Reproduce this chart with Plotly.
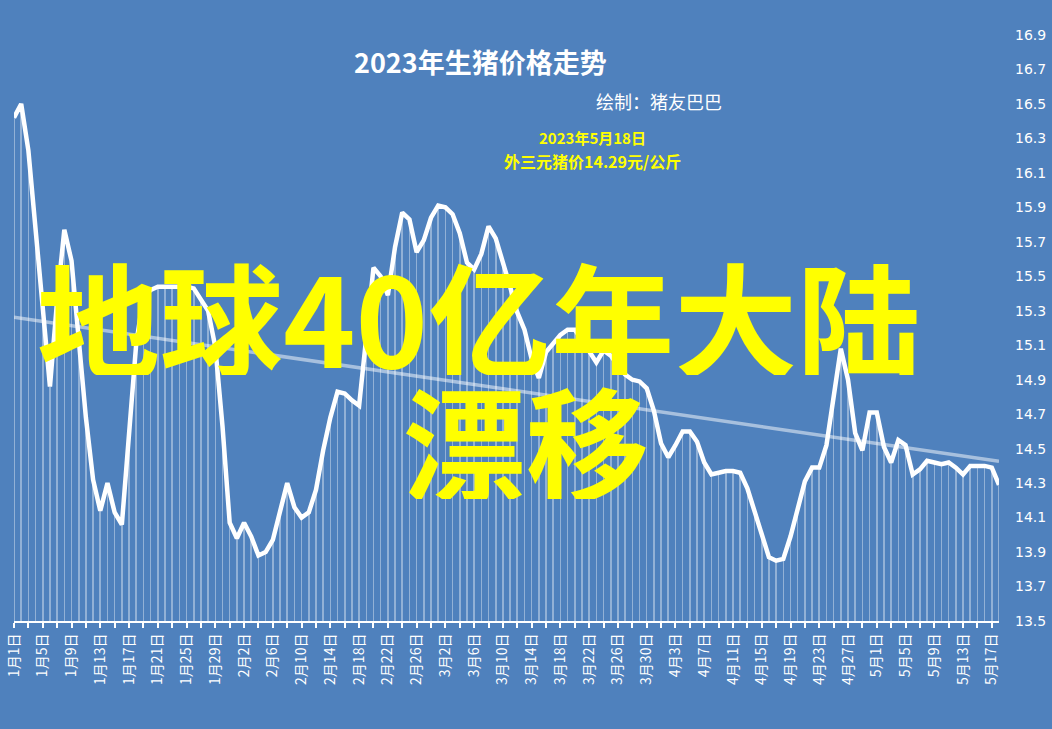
import numpy as np
import pandas as pd
import plotly.graph_objects as go

# ---- data ----
start_date = "2023-01-01"
end_date = "2023-05-18"
prices = [
    16.42, 16.50, 16.23, 15.79, 15.31, 14.86, 15.36, 15.77, 15.59, 15.11,
    14.68, 14.32, 14.14, 14.30, 14.13, 14.06, 14.61, 15.11, 15.38, 15.42,
    15.44, 15.44, 15.44, 15.44, 15.44, 15.43, 15.37, 15.30, 15.09, 14.63,
    14.07, 13.98, 14.07, 13.99, 13.88, 13.90, 13.97, 14.14, 14.30, 14.16,
    14.10, 14.13, 14.26, 14.49, 14.68, 14.83, 14.82, 14.78, 14.75, 15.15,
    15.55, 15.50, 15.39, 15.67, 15.87, 15.83, 15.64, 15.71, 15.84, 15.91,
    15.90, 15.86, 15.75, 15.58, 15.54, 15.63, 15.79, 15.72, 15.59, 15.44,
    15.29, 15.19, 15.02, 14.91, 15.06, 15.11, 15.16, 15.19, 15.19, 15.13,
    15.06, 15.00, 15.07, 15.04, 14.98, 14.93, 14.90, 14.89, 14.85, 14.72,
    14.53, 14.45, 14.52, 14.60, 14.60, 14.54, 14.42, 14.35, 14.36, 14.37,
    14.37, 14.36, 14.27, 14.14, 14.01, 13.87, 13.85, 13.86, 13.99, 14.16,
    14.31, 14.39, 14.39, 14.52, 14.80, 15.08, 14.90, 14.59, 14.49, 14.71,
    14.71, 14.51, 14.42, 14.55, 14.52, 14.35, 14.38, 14.43, 14.42, 14.41,
    14.42, 14.39, 14.35, 14.40, 14.40, 14.40, 14.39, 14.29,
]
tick_labels = [
    "1月1日", "1月5日", "1月9日", "1月13日", "1月17日", "1月21日", "1月25日", "1月29日",
    "2月2日", "2月6日", "2月10日", "2月14日", "2月18日", "2月22日", "2月26日",
    "3月2日", "3月6日", "3月10日", "3月14日", "3月18日", "3月22日", "3月26日", "3月30日",
    "4月3日", "4月7日", "4月11日", "4月15日", "4月19日", "4月23日", "4月27日",
    "5月1日", "5月5日", "5月9日", "5月13日", "5月17日",
]
y_min, y_max = 13.5, 16.9
title_text = "2023年生猪价格走势"
subtitle_text = "绘制：猪友巴巴"
note_line1 = "2023年5月18日"
note_line2 = "外三元猪价14.29元/公斤"
overlay_line1 = "地球40亿年大陆"
overlay_line2 = "漂移"

# ---- derived ----
dates = pd.date_range(start_date, end_date, freq="D")
tick_dates = dates[::4]
idx = np.arange(len(prices))
slope, intercept = np.polyfit(idx, np.array(prices), 1)
trend = intercept + slope * idx

BG = "#4F81BD"
DAY_MS = 86400000
CJK = "Noto Sans CJK SC"

fig = go.Figure()
fig.add_trace(go.Bar(
    x=dates, y=[p - y_min for p in prices], base=y_min,
    width=0.22 * DAY_MS,
    marker=dict(color="rgba(255,255,255,0.38)", line=dict(width=0)),
    hoverinfo="skip", showlegend=False,
))
fig.add_trace(go.Scatter(
    x=dates, y=trend, mode="lines",
    line=dict(color="rgba(255,255,255,0.5)", width=3.5),
    hoverinfo="skip", showlegend=False,
))
fig.add_trace(go.Scatter(
    x=dates, y=prices, mode="lines",
    line=dict(color="white", width=4.5),
    showlegend=False,
))

L, R, T, B = 14, 53, 35, 108
W, H = 1052, 729
PW, PH = W - L - R, H - T - B


def px(x):
    return (x - L) / PW


def py(y):
    return (H - B - y) / PH


ann = []
ann.append(dict(text="<b>" + title_text + "</b>", x=px(480), y=py(61),
                font=dict(size=27, color="white", family=CJK)))
ann.append(dict(text=subtitle_text, x=px(659), y=py(101),
                font=dict(size=18, color="white", family=CJK)))
ann.append(dict(text="<b>" + note_line1 + "</b>", x=px(592), y=py(138),
                font=dict(size=15, color="#FFFF00", family=CJK)))
ann.append(dict(text="<b>" + note_line2 + "</b>", x=px(592), y=py(161),
                font=dict(size=16, color="#FFFF00", family=CJK)))
ann.append(dict(text="<b>" + overlay_line1 + "</b>", x=px(478), y=py(314),
                height=122, valign="middle",
                font=dict(size=123, color="#FFFF00", family=CJK)))
ann.append(dict(text="<b>" + overlay_line2 + "</b>", x=px(526), y=py(438),
                height=122, valign="middle",
                font=dict(size=123, color="#FFFF00", family=CJK)))
for a in ann:
    a.update(xref="paper", yref="paper", showarrow=False,
             xanchor="center", yanchor="middle")

fig.update_layout(
    width=W, height=H,
    margin=dict(l=L, r=R, t=T, b=B, autoexpand=False),
    paper_bgcolor=BG, plot_bgcolor=BG,
    bargap=0, showlegend=False,
    annotations=ann,
    xaxis=dict(
        type="date", automargin=False,
        range=[dates[0], dates[-1]],
        tickvals=tick_dates, ticktext=tick_labels,
        tickangle=-90,
        tickfont=dict(size=14, color="white", family=CJK),
        ticks="outside", ticklen=5, tickwidth=2, tickcolor="white",
        minor=dict(tick0=start_date, dtick=2 * DAY_MS, ticks="outside",
                   ticklen=5, tickwidth=2, tickcolor="white", showgrid=False),
        showline=True, linecolor="white", linewidth=2,
        showgrid=False, zeroline=False,
    ),
    yaxis=dict(
        side="right", automargin=False,
        range=[y_min, y_max],
        tick0=y_min, dtick=0.2, tickformat=".1f",
        tickfont=dict(size=14, color="white", family="DejaVu Sans"),
        ticks="", ticklabelstandoff=15,
        showline=False, showgrid=False, zeroline=False,
    ),
)

fig.write_html(
    "out.html",
    config={"displayModeBar": False},
    post_script="document.body.style.margin='0';document.body.style.overflow='hidden';",
)
